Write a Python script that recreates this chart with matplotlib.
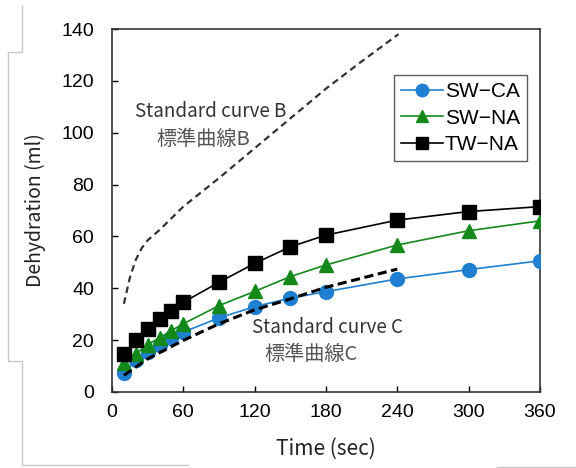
"""Dehydration vs time for three wall types, with standard curves B and C."""

import matplotlib

matplotlib.use("Agg")
import matplotlib.pyplot as plt
from matplotlib.lines import Line2D

plt.rcParams["font.family"] = ["Liberation Sans", "DejaVu Sans"]

# Measured series (time in sec, dehydration in ml)
TIME = [10, 20, 30, 40, 50, 60, 90, 120, 150, 180, 240, 300, 360]
SW_CA = [7.3, 12.2, 15.4, 18.3, 20.9, 23.1, 28.6, 32.9, 36.2, 38.7, 43.6, 47.2, 50.6]
SW_NA = [11.2, 14.7, 18.3, 20.9, 23.7, 26.3, 33.3, 38.8, 44.5, 49.0, 56.7, 62.2, 66.0]
TW_NA = [14.7, 19.9, 24.4, 28.2, 31.4, 34.6, 42.3, 49.6, 56.0, 60.5, 66.3, 69.6, 71.5]

# Standard curves
CURVE_B_T = [10, 15, 20, 25, 30, 40, 50, 60, 90, 120, 150, 180, 210, 241]
CURVE_B_V = [34.0, 44.0, 51.0, 55.5, 58.5, 62.5, 67.0, 71.5, 82.5, 94.0, 105.5, 117.0, 127.5, 138.0]
CURVE_C_T = [10, 20, 30, 60, 90, 120, 150, 180, 240]
CURVE_C_V = [6.4, 9.6, 12.8, 19.9, 26.3, 31.7, 35.9, 40.4, 47.4]

X_TICKS = [0, 60, 120, 180, 240, 300, 360]
Y_TICKS = [0, 20, 40, 60, 80, 100, 120, 140]

JP_FONT = ["Noto Sans CJK JP", "DejaVu Sans"]

fig = plt.figure(figsize=(5.76, 4.68), dpi=100)
ax = fig.add_axes([0.1944, 0.1624, 0.743, 0.7756])

ax.plot(CURVE_B_T, CURVE_B_V, linestyle=(0, (3, 2)), color="#333333",
        linewidth=1.6, zorder=2)
ax.plot(TIME, SW_CA, color="#1f7fd0", marker="o", markersize=10,
        linewidth=1.2, label="SW\u2212CA", zorder=3)
ax.plot(TIME, SW_NA, color="#13891a", marker="^", markersize=10,
        linewidth=1.2, label="SW\u2212NA", zorder=3)
ax.plot(TIME, TW_NA, color="black", marker="s", markersize=10,
        linewidth=1.2, label="TW\u2212NA", zorder=3)
ax.plot(CURVE_C_T, CURVE_C_V, linestyle=(0, (3, 1.5)), color="black",
        linewidth=2.2, zorder=4)

ax.text(19.5, 108.3, "Standard curve B", fontsize=13.5, family=JP_FONT,
        color="#333333", va="center")
ax.text(37.5, 97.5, "標準曲線B", fontsize=14.5, family=JP_FONT,
        color="#555555", va="center")
ax.text(117.5, 25, "Standard curve C", fontsize=13.5, family=JP_FONT,
        color="#333333", va="center")
ax.text(128.5, 14.5, "標準曲線C", fontsize=14.5, family=JP_FONT,
        color="#555555", va="center")

ax.set_xlim(0, 360)
ax.set_ylim(0, 140)
ax.set_xticks(X_TICKS)
ax.set_yticks(Y_TICKS)
ax.tick_params(direction="in", length=4, width=1, labelsize=14)
ax.tick_params(axis="x", pad=9)
ax.tick_params(axis="y", pad=13)
for side in ax.spines.values():
    side.set_linewidth(1.2)
    side.set_color("#333333")

ax.set_xlabel("Time (sec)", fontsize=15, family=JP_FONT, color="#222222",
              labelpad=12)
ax.set_ylabel("Dehydration (ml)", fontsize=14, family=JP_FONT,
              color="#222222", labelpad=11)

leg = ax.legend(loc="upper right", bbox_to_anchor=(0.97, 0.873),
                borderaxespad=0, fontsize=15, frameon=True, fancybox=False,
                handlelength=2.0, handletextpad=0.1, borderpad=0.35,
                labelspacing=0.35, markerscale=0.9)
leg.get_frame().set_edgecolor("#333333")
leg.get_frame().set_linewidth(1.0)

# light cropping marks around the picture edge
gray = "#c8c8c8"
px = lambda x, y: (x / 576, 1 - y / 468)
for pts in (
    [(21.7, 6), (21.7, 52), (8.3, 52), (8.3, 360.7), (21.7, 360.7),
     (21.7, 465), (188, 465)],
    [(496.7, 466.7), (576, 466.7)],
):
    xs, ys = zip(*[px(*p) for p in pts])
    fig.add_artist(Line2D(xs, ys, color=gray, linewidth=1.0,
                          transform=fig.transFigure))

fig.savefig("out.png", dpi=100)
